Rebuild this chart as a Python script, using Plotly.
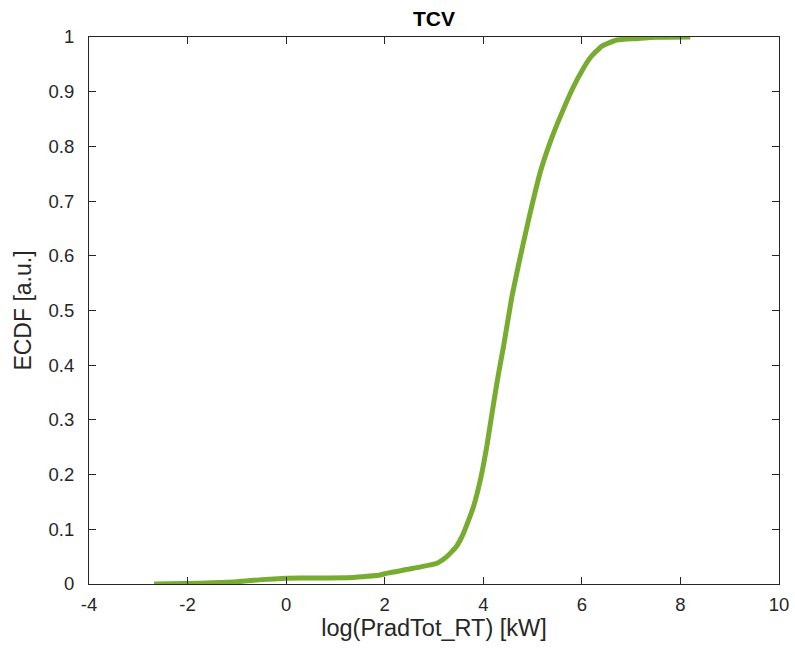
import plotly.graph_objects as go

x_vals = [-2.68, -1.74, -1.0, -0.5, 0.0, 0.6, 1.36, 1.91, 2.03, 2.58, 3.06, 3.26, 3.45, 3.60, 3.80, 3.94, 4.07, 4.20, 4.30,
          4.41, 4.58, 4.75, 4.95, 5.15, 5.35, 5.56, 5.83, 6.00, 6.17, 6.40, 6.71, 7.10, 7.52, 8.20]
y_vals = [0.0, 0.0015, 0.004, 0.008, 0.0104, 0.011, 0.012, 0.0165, 0.0195, 0.0287, 0.038, 0.05, 0.068, 0.093, 0.141, 0.19, 0.251, 0.325, 0.38,
          0.434, 0.525, 0.598, 0.678, 0.751, 0.806, 0.854, 0.909, 0.938, 0.962, 0.983, 0.9945, 0.997, 0.9995, 1.0]

x_ticks = [-4, -2, 0, 2, 4, 6, 8, 10]
x_tick_text = ["-4", "-2", "0", "2", "4", "6", "8", "10"]
y_ticks = [0, 0.1, 0.2, 0.3, 0.4, 0.5, 0.6, 0.7, 0.8, 0.9, 1]
y_tick_text = ["0", "0.1", "0.2", "0.3", "0.4", "0.5", "0.6", "0.7", "0.8", "0.9", "1"]

axis_color = "#262626"
font_family = "Liberation Sans, Arial, sans-serif"

fig = go.Figure()
fig.add_trace(go.Scatter(x=x_vals, y=y_vals, mode="lines",
                         line=dict(color="#77AC30", width=5, shape="spline", smoothing=0.4),
                         showlegend=False))

fig.update_layout(
    width=795, height=653,
    margin=dict(l=89, r=16, t=37, b=69),
    paper_bgcolor="white", plot_bgcolor="white",
    font=dict(family=font_family, color=axis_color, size=18.5),
    title=dict(text="<b>TCV</b>", x=0.5, xref="paper", xanchor="center",
               y=1 - 19 / 653, yanchor="middle", font=dict(size=21, color="black")),
)
common = dict(showgrid=False, zeroline=False, showline=True, linecolor=axis_color, linewidth=1,
              mirror="ticks", ticks="inside", ticklen=7, tickcolor=axis_color, tickwidth=1,
              automargin=False,
              tickfont=dict(size=18.5, color=axis_color, family=font_family))
fig.update_xaxes(range=[-4, 10], tickvals=x_ticks, ticktext=x_tick_text, ticklabelstandoff=4,
                 title=dict(text="log(PradTot_RT) [kW]", font=dict(size=23.5, color=axis_color), standoff=4),
                 **common)
fig.update_yaxes(range=[0, 1], tickvals=y_ticks, ticktext=y_tick_text, ticklabelstandoff=10,
                 title=dict(text="ECDF [a.u.]", font=dict(size=23, color=axis_color), standoff=10),
                 **common)

fig.write_html("out.html")
